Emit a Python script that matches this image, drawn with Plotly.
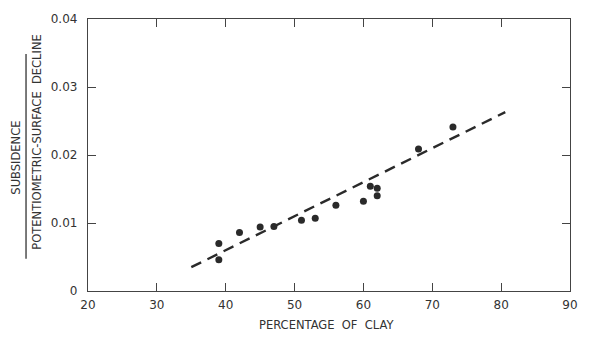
import plotly.graph_objects as go

clay_pct = [39, 39, 42, 45, 47, 51, 53, 56, 60, 61, 62, 62, 68, 73]
ratio = [0.0070, 0.0046, 0.0086, 0.0094, 0.0095, 0.0104, 0.0107, 0.0126, 0.0132, 0.0154, 0.0151, 0.0140, 0.0209, 0.0241]

fit_x = [35, 80.6]
fit_y = [0.0035, 0.0263]

x_ticks = [20, 30, 40, 50, 60, 70, 80, 90]
y_ticks = [0, 0.01, 0.02, 0.03, 0.04]
y_tick_labels = ["0", "0.01", "0.02", "0.03", "0.04"]

ink = "#2a2a2a"
font_family = "DejaVu Sans"

fig = go.Figure()
fig.add_trace(go.Scatter(
    x=fit_x, y=fit_y, mode="lines",
    line=dict(color=ink, width=2.4, dash="11px,7px"),
    hoverinfo="skip", showlegend=False,
))
fig.add_trace(go.Scatter(
    x=clay_pct, y=ratio, mode="markers",
    marker=dict(color=ink, size=7, line=dict(width=0)),
    showlegend=False,
))

axis_common = dict(
    showgrid=False, zeroline=False, showline=True, linecolor="#444", linewidth=1.3,
    mirror="ticks", ticks="inside", ticklen=8, tickwidth=1.3, tickcolor="#444",
    tickfont=dict(family=font_family, size=12, color="#333"),
)

fig.update_xaxes(range=[20, 90], tickvals=x_ticks, ticktext=[str(v) for v in x_ticks],
                 ticklabelstandoff=2, **axis_common)
fig.update_yaxes(range=[0, 0.04], tickvals=y_ticks, ticktext=y_tick_labels,
                 ticklabelstandoff=7, **axis_common)

W, H = 590, 337
L, R, T, B = 88, 12, 12, 46
pw, ph = W - L - R, H - T - B

def px(xp):
    return (xp - L) / pw

def py(yp):
    return (H - B - yp) / ph

title_font = dict(family=font_family, size=11.5, color="#333")

fig.update_layout(
    width=W, height=H,
    margin=dict(l=L, r=R, t=T, b=B),
    paper_bgcolor="white", plot_bgcolor="white",
    font=dict(family=font_family, color="#333"),
    annotations=[
        dict(text="PERCENTAGE  OF  CLAY", xref="paper", yref="paper",
             x=px(330), y=py(326), xanchor="center", yanchor="middle",
             showarrow=False, font=title_font),
        dict(text="SUBSIDENCE", xref="paper", yref="paper",
             x=px(15), y=py(154), xanchor="center", yanchor="middle",
             textangle=-90, showarrow=False, font=title_font),
        dict(text="POTENTIOMETRIC-SURFACE  DECLINE", xref="paper", yref="paper",
             x=px(36), y=py(138), xanchor="center", yanchor="middle",
             textangle=-90, showarrow=False, font=title_font),
    ],
    shapes=[
        dict(type="line", xref="paper", yref="paper",
             x0=px(25), x1=px(25), y0=py(48), y1=py(258),
             line=dict(color="#333", width=1.3)),
    ],
)

fig.write_html("out.html")
